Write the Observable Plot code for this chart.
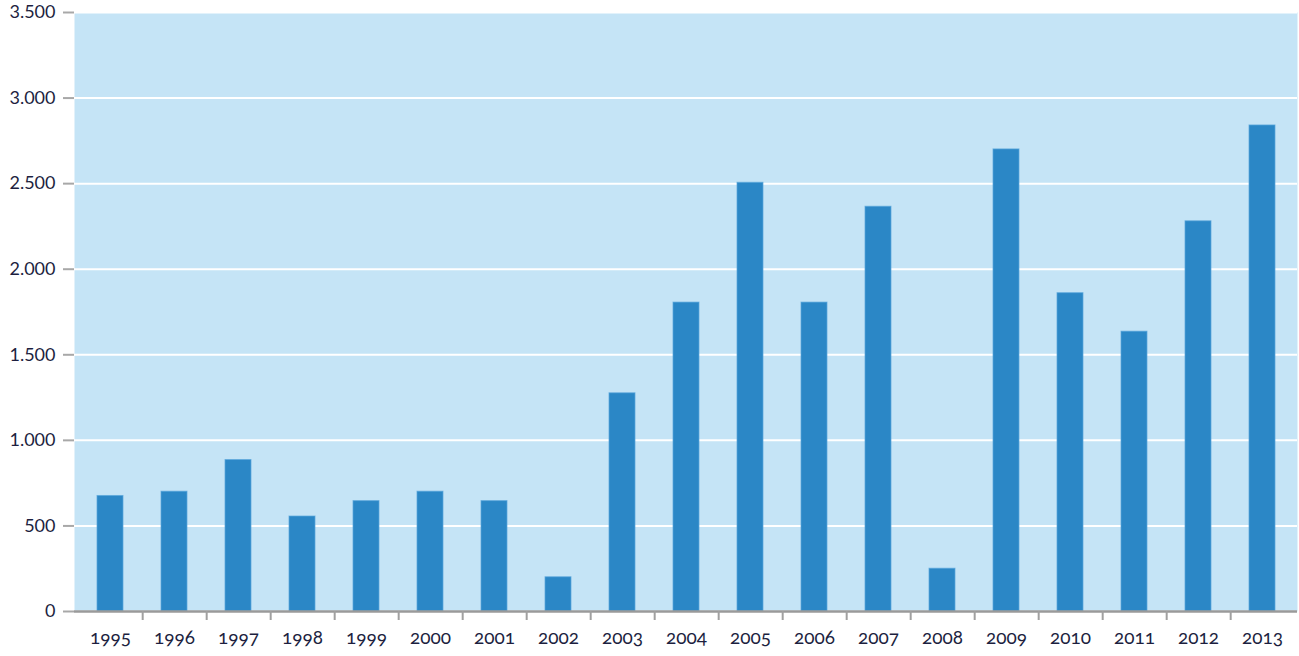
<!DOCTYPE html>
<html>
<head>
<meta charset="utf-8">
<script src="https://cdn.jsdelivr.net/npm/d3@7"></script>
<script src="https://cdn.jsdelivr.net/npm/@observablehq/plot@0.6"></script>
<style>
  html, body { margin: 0; padding: 0; background: #fff; }
  #chart svg { display: block; font-variant-numeric: oldstyle-nums; }
</style>
</head>
<body>
<div id="chart"></div>
<script>
const years = ["1995","1996","1997","1998","1999","2000","2001","2002","2003","2004","2005","2006","2007","2008","2009","2010","2011","2012","2013"];
const values = [675, 700, 885, 555, 645, 700, 645, 200, 1275, 1805, 2505, 1805, 2365, 250, 2700, 1860, 1635, 2280, 2840];
const yTicks = [0, 500, 1000, 1500, 2000, 2500, 3000, 3500];

const data = years.map((year, i) => ({ year, value: values[i] }));

const W = 1299, H = 656;
const mL = 74, mR = 2, mT = 12, mB = 45;
const step = (W - mL - mR) / years.length;
const fmt = d => d3.format(",")(d).replace(/,/g, ".");

const chart = Plot.plot({
  width: W,
  height: H,
  marginLeft: mL,
  marginRight: mR,
  marginTop: mT,
  marginBottom: mB,
  style: { fontFamily: "Lato, 'Open Sans', sans-serif", fontSize: "18px", color: "#1d1f3f", background: "#fff" },
  x: { type: "band", domain: years, paddingInner: 0.6, paddingOuter: 0.3, align: 0.5 },
  y: { domain: [0, 3500] },
  marks: [
    Plot.frame({ fill: "#c5e4f6", stroke: null }),
    Plot.gridY(yTicks, { stroke: "#ffffff", strokeOpacity: 1, strokeWidth: 2 }),
    Plot.barY(data, { x: "year", y: "value", fill: "#2b87c6", stroke: "#5aa6dc", strokeWidth: 1, strokeOpacity: 0.7 }),
    Plot.ruleY([0], { stroke: "#9a9a9a", strokeWidth: 2.5 }),
    Plot.axisX(years.slice(0, -1), { tickSize: 9, dx: step / 2, text: null, stroke: "#a0a0a0", strokeWidth: 2, label: null }),
    Plot.axisY({ ticks: yTicks, tickFormat: fmt, tickSize: 11, tickPadding: 8, stroke: "#a8a8a8", strokeWidth: 2, label: null, fill: "#1d1f3f", fontSize: 18, letterSpacing: "0.6px" }),
    Plot.axisX({ tickSize: 0, tickPadding: 19, label: null, fill: "#1d1f3f", fontSize: 19, letterSpacing: "1px" })
  ]
});

document.getElementById("chart").appendChild(chart);
</script>
</body>
</html>
